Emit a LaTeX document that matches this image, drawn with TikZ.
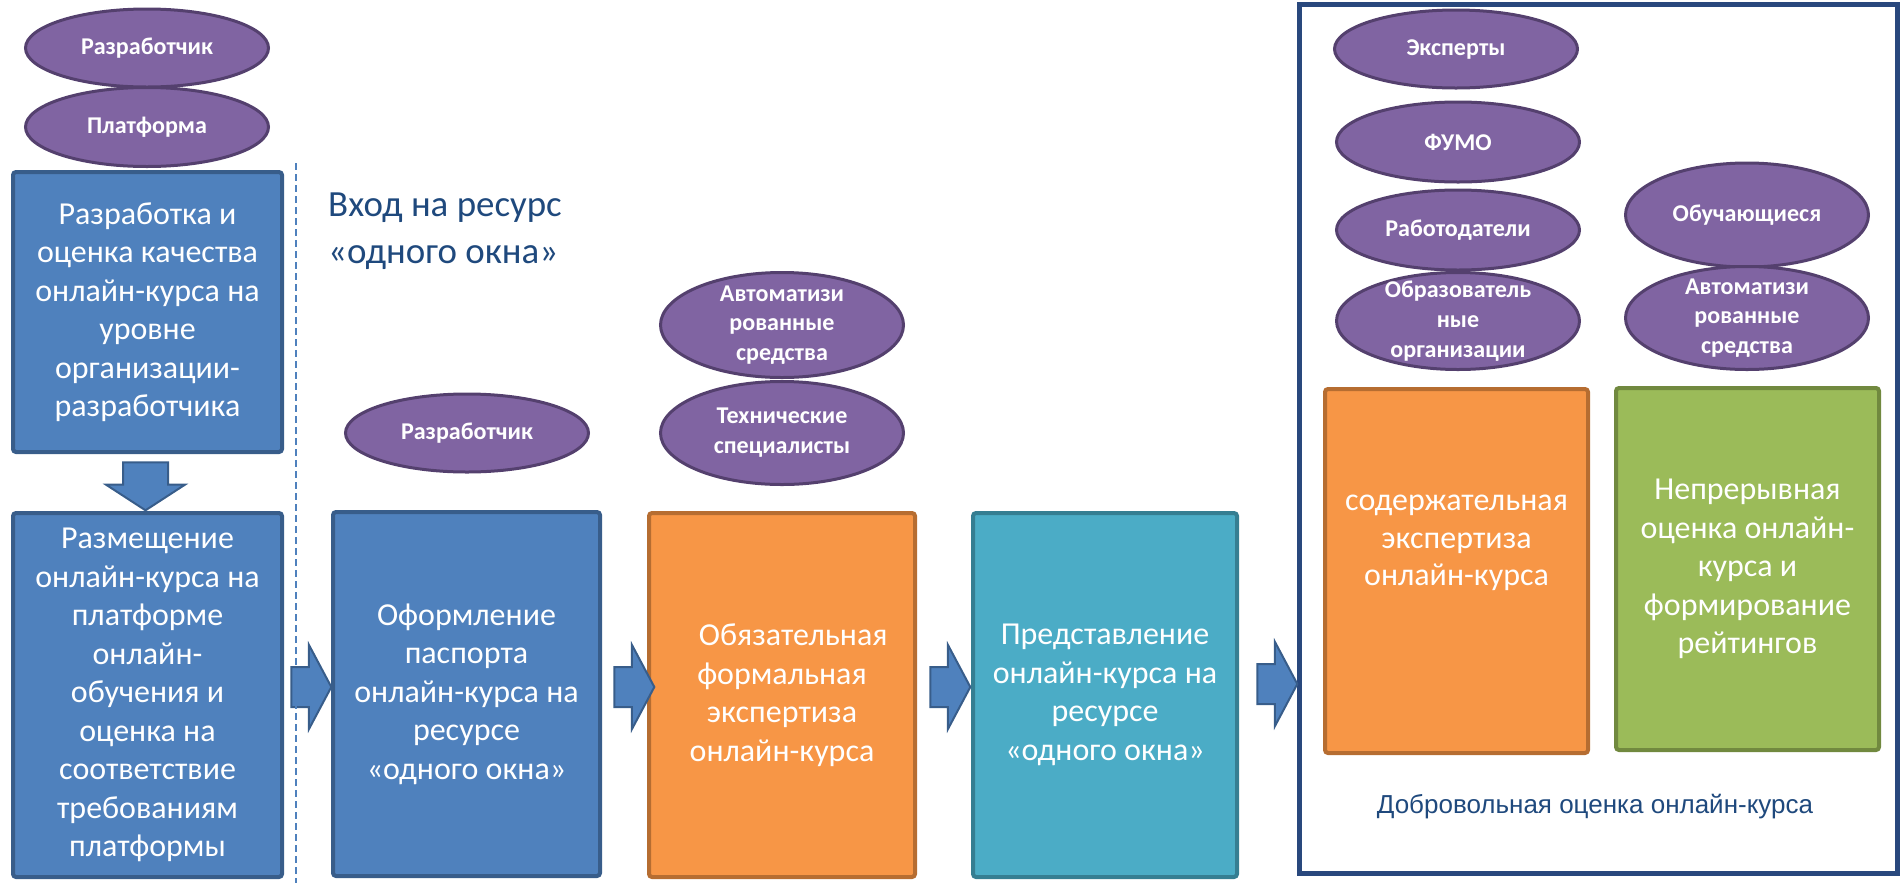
\documentclass[tikz,border=0pt]{standalone}
\usepackage{fontspec}
\setmainfont{Carlito}
\newfontfamily\captionfont{Liberation Sans}
\usepackage{tikz}
\usetikzlibrary{shapes.geometric, shapes.arrows, positioning}

\newlength\pxu
\setlength\pxu{0.02cm}

\definecolor{blueFill}{RGB}{79,129,189}
\definecolor{blueLine}{RGB}{56,93,138}
\definecolor{orangeFill}{RGB}{247,150,70}
\definecolor{orangeLine}{RGB}{182,109,49}
\definecolor{tealFill}{RGB}{75,172,198}
\definecolor{tealLine}{RGB}{53,126,146}
\definecolor{greenFill}{RGB}{155,187,89}
\definecolor{greenLine}{RGB}{113,137,63}
\definecolor{actorFill}{RGB}{128,100,162}
\definecolor{actorLine}{RGB}{84,64,110}
\definecolor{headBlue}{RGB}{31,73,125}
\definecolor{frameBlue}{RGB}{41,72,125}

\tikzset{
  stage/.style={rectangle, line width=4\pxu, rounded corners=3\pxu, text=white,
    align=center, inner sep=0pt, minimum width=267\pxu, minimum height=364\pxu,
    font=\fontsize{18.2}{21.9}\selectfont},
  actor/.style={ellipse, draw=actorLine, fill=actorFill, line width=3\pxu, text=white,
    align=center, inner sep=-12\pxu, minimum width=243\pxu, minimum height=78\pxu,
    font=\bfseries\fontsize{13.7}{17}\selectfont},
  flow/.style={single arrow, draw=blueLine, fill=blueFill, line width=2\pxu,
    inner xsep=0pt, inner ysep=19\pxu, text height=0pt, text depth=0pt,
    single arrow head extend=22\pxu, single arrow tip angle=124, minimum height=40\pxu},
}

\begin{document}
\begin{tikzpicture}[x=\pxu, y=-\pxu]
    \useasboundingbox (0,0) rectangle (1901,883);

    % voluntary part
    \draw[frameBlue, line width=5\pxu] (1299,4) rectangle (1897,873);

    % actors
    \node[actor] (devA) at (147,48) {Разработчик};
    \node[actor, minimum height=79\pxu] (platf) at (147,127) {Платформа};
    \node[actor] (devB) at (467,433) {Разработчик};
    \node[actor, minimum height=105\pxu] (autoA) at (782,325) {Автоматизи\\рованные\\средства};
    \node[actor, minimum height=103\pxu] (tech) at (782,433) {Технические\\специалисты};
    \node[actor] (expert) at (1456,49) {Эксперты};
    \node[actor, minimum height=80\pxu] (fumo) at (1458,142) {ФУМО};
    \node[actor, minimum height=80\pxu] (employ) at (1458,230) {Работодатели};
    \node[actor, minimum height=97\pxu] (eduorg) at (1458,321) {Образователь\\ные\\организации};
    \node[actor, minimum height=104\pxu] (learner) at (1747,215) {Обучающиеся};
    \node[actor, minimum height=103\pxu] (autoB) at (1747,318) {Автоматизи\\рованные\\средства};

    % stages
    \node[stage, draw=blueLine, fill=blueFill, minimum width=269\pxu, minimum height=280\pxu] (develop) at (147.5,312)
        {Разработка и\\оценка качества\\онлайн-курса на\\уровне\\организации-\\разработчика};
    \node[stage, draw=blueLine, fill=blueFill, minimum width=269\pxu] (place) at (147.5,695)
        {Размещение\\онлайн-курса на\\платформе\\онлайн-\\обучения и\\оценка на\\соответствие\\требованиям\\платформы};
    \node[stage, draw=blueLine, fill=blueFill] (passport) at (466.5,694)
        {Оформление\\паспорта\\онлайн-курса на\\ресурсе\\«одного окна»};
    \node[stage, draw=orangeLine, fill=orangeFill, minimum width=266\pxu] (formal) at (782,695)
        {\hspace*{0.7em}Обязательная\\формальная\\экспертиза\\онлайн-курса};
    \node[stage, draw=tealLine, fill=tealFill, minimum width=264\pxu] (present) at (1105,695)
        {Представление\\онлайн-курса на\\ресурсе\\«одного окна»};
    \node[stage, draw=orangeLine, fill=orangeFill, minimum width=263\pxu] (content) at (1456.5,571) {};
    \node[text=white, align=center, font=\fontsize{18.2}{21.4}\selectfont] (contentTxt) at (1456.5,543)
        {содержательная\\экспертиза\\онлайн-курса};
    \node[stage, draw=greenLine, fill=greenFill, minimum width=263\pxu, minimum height=362\pxu] (rating) at (1747.5,569)
        {Непрерывная\\оценка онлайн-\\курса и\\формирование\\рейтингов};

    % arrows
    \node[flow, shape border rotate=270, inner xsep=21.5\pxu, inner ysep=0pt, single arrow head extend=17\pxu,
        single arrow tip angle=114, minimum height=48\pxu] (down) at (145.5,479) {};
    \node[flow] (goA) at (306,687) {};
    \node[flow] (goB) at (629,687) {};
    \node[flow] (goC) at (945,687) {};
    \node[flow] (goD) at (1272,684) {};

    % one-window border
    \coordinate (lineTop) at (296,163);
    \coordinate (lineBot) at (296,883);
    \draw[blueFill, line width=2\pxu, dash pattern=on 7\pxu off 4\pxu] (lineTop) -- (lineBot);
    \node[anchor=west, align=left, text=headBlue, font=\fontsize{21}{26.7}\selectfont] (entry) at (322,231)
        {Вход на ресурс\\«одного окна»};

    \node[text=headBlue, font=\captionfont\fontsize{14.8}{18}\selectfont] (volunt) at (1595,807)
        {Добровольная оценка онлайн-курса};
\end{tikzpicture}
\end{document}
